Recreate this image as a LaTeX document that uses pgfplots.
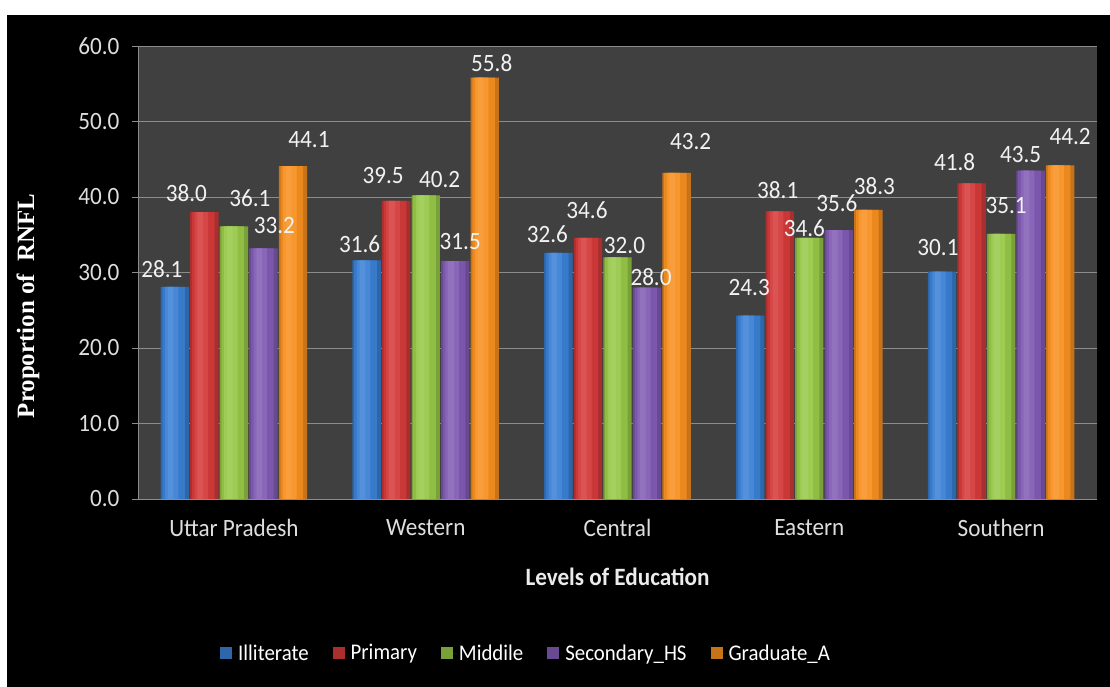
\documentclass[border=0pt]{standalone}
\usepackage{fontspec}
\setmainfont{Carlito}[FakeStretch=0.93]
\newfontfamily\timesfont{Liberation Serif}
\usepackage{pgfplots}
\usepackage{pgfplotstable}
\pgfplotsset{compat=1.18}

\definecolor{cBlue}{RGB}{58,128,212}
\definecolor{cRed}{RGB}{212,58,58}
\definecolor{cGreen}{RGB}{152,200,72}
\definecolor{cPurple}{RGB}{130,92,180}
\definecolor{cOrange}{RGB}{248,144,32}
\definecolor{plotbg}{RGB}{64,64,64}
\definecolor{gridc}{RGB}{140,140,140}
\definecolor{ticktext}{RGB}{222,222,222}

\pgfplotstableread{
x y dx dy
0 28.1 -13 9
1 31.6 -7 8
2 32.6 -11 10
3 24.3 -1 20
4 30.1 -4 16
}\illit
\pgfplotstableread{
x y dx dy
0 38.0 -18 10
1 39.5 -13 17
2 34.6 -1 19
3 38.1 -2 12
4 41.8 -17 13
}\prim
\pgfplotstableread{
x y dx dy
0 36.1 16 20
1 40.2 14 8
2 32.0 7 4
3 34.6 -5 1
4 35.1 5 20
}\midd
\pgfplotstableread{
x y dx dy
0 33.2 11 14
1 31.5 5 11
2 28.0 4 2
3 35.6 -2 18
4 43.5 -10 8
}\secd
\pgfplotstableread{
x y dx dy
0 44.1 16 18
1 55.8 7 6
2 43.2 14 23
3 38.3 6 15
4 44.2 10 20
}\grad

\pgfplotsset{
  lbl/.style={
    draw=none, fill=none, forget plot,
    nodes near coords={\pgfmathprintnumber[fixed,fixed zerofill,precision=1]{\pgfplotspointmeta}},
    point meta=explicit,
    visualization depends on={\thisrow{dx}\as\dx},
    visualization depends on={\thisrow{dy}\as\dy},
    every node near coord/.append style={text=white!95!black, font=\fontsize{25}{30}\selectfont, inner sep=0pt, anchor=south, xshift=\dx bp, yshift=\dy bp},
  },
}
% #1 table, #2 colour, #3 bar shift, #4 legend text
\newcommand\barseries[4]{%
  \addplot[draw=none, fill=#2!80!black, bar width=0.148, bar shift=#3] table[x=x, y=y] {#1};
  \addlegendentry{#4}
  \pgfmathsetmacro\sA{#3-0.006}
  \pgfmathsetmacro\sB{#3-0.016}
  \pgfmathsetmacro\sC{#3-0.022}
  \edef\temp{\noexpand\addplot[draw=none, fill=#2!95!black, bar width=0.118, bar shift=\sA, forget plot] table[x=x, y=y] {\noexpand#1};}\temp
  \edef\temp{\noexpand\addplot[draw=none, fill=#2!94!white, bar width=0.07, bar shift=\sB, forget plot] table[x=x, y=y] {\noexpand#1};}\temp
  \edef\temp{\noexpand\addplot[draw=none, fill=#2!87!white, bar width=0.03, bar shift=\sC, forget plot] table[x=x, y=y] {\noexpand#1};}\temp
}

\begin{document}
\begin{tikzpicture}
\fill[white] (0,0) rectangle (1110bp,687bp);
\fill[black] (7bp,0) rectangle (1110bp,672bp);
\begin{axis}[
  at={(138bp,188bp)}, anchor=south west,
  scale only axis, width=959bp, height=453bp,
  ybar,
  xmin=-0.5, xmax=4.5, ymin=0, ymax=60,
  ytick={0,10,...,60},
  xtick={0,1,2,3,4},
  xticklabels={Uttar Pradesh,Western,Central,Eastern,Southern},
  minor xtick={-0.5,0.5,1.5,2.5,3.5,4.5},
  xtick style={draw=none},
  minor tick style={draw=gridc, line width=0.8bp},
  ytick style={draw=gridc, line width=0.8bp},
  tick align=outside,
  major tick length=6bp, minor tick length=6bp,
  axis background/.style={fill=plotbg},
  axis x line*=bottom, axis y line*=left,
  axis line style={-, draw=gridc, line width=0.8bp},
  ymajorgrids, grid style={draw=gridc, line width=0.8bp},
  /pgf/number format/assume math mode=true,
  yticklabel={\pgfmathprintnumber[fixed,fixed zerofill,precision=1]{\tick}},
  yticklabel style={text=ticktext, font=\fontsize{25}{30}\selectfont, xshift=-9bp},
  xticklabel style={text=ticktext, font=\fontsize{25}{30}\selectfont, yshift=-11bp},
  every axis x label/.style={at={(axis description cs:0.5,-0.172)}, anchor=center},
  every axis y label/.style={at={(axis description cs:-0.1147,0.426)}, anchor=center, rotate=90},
  xlabel={\textbf{Levels of Education}},
  xlabel style={text=white!92!black, font=\fontsize{25}{30}\selectfont},
  ylabel={\timesfont\bfseries Proportion of\ \ RNFL},
  ylabel style={text=white, font=\fontsize{25}{30}\selectfont},
  legend columns=5,
  legend style={at={(0.4046,-0.34)}, anchor=center, draw=none, fill=none,
    text=white, font=\fontsize{22.5}{27}\selectfont,
    /tikz/every even column/.append style={column sep=22bp}},
  legend image code/.code={\path (0bp,0bp) -- (16bp,0bp); \fill[#1] (0bp,-6bp) rectangle (12bp,6bp);},
  clip=false,
]
\barseries{\illit}{cBlue}{-0.308}{Illiterate}
\barseries{\prim}{cRed}{-0.154}{Primary}
\barseries{\midd}{cGreen}{0}{Middile}
\barseries{\secd}{cPurple}{0.154}{Secondary\_HS}
\barseries{\grad}{cOrange}{0.308}{Graduate\_A}
\addplot[lbl, bar width=0.148, bar shift=-0.308] table[x=x, y=y, meta=y] {\illit};
\addplot[lbl, bar width=0.148, bar shift=-0.154] table[x=x, y=y, meta=y] {\prim};
\addplot[lbl, bar width=0.148, bar shift=0] table[x=x, y=y, meta=y] {\midd};
\addplot[lbl, bar width=0.148, bar shift=0.154] table[x=x, y=y, meta=y] {\secd};
\addplot[lbl, bar width=0.148, bar shift=0.308] table[x=x, y=y, meta=y] {\grad};
\end{axis}
\pgfresetboundingbox
\useasboundingbox (0,0) rectangle (1110bp,687bp);
\end{tikzpicture}
\end{document}
